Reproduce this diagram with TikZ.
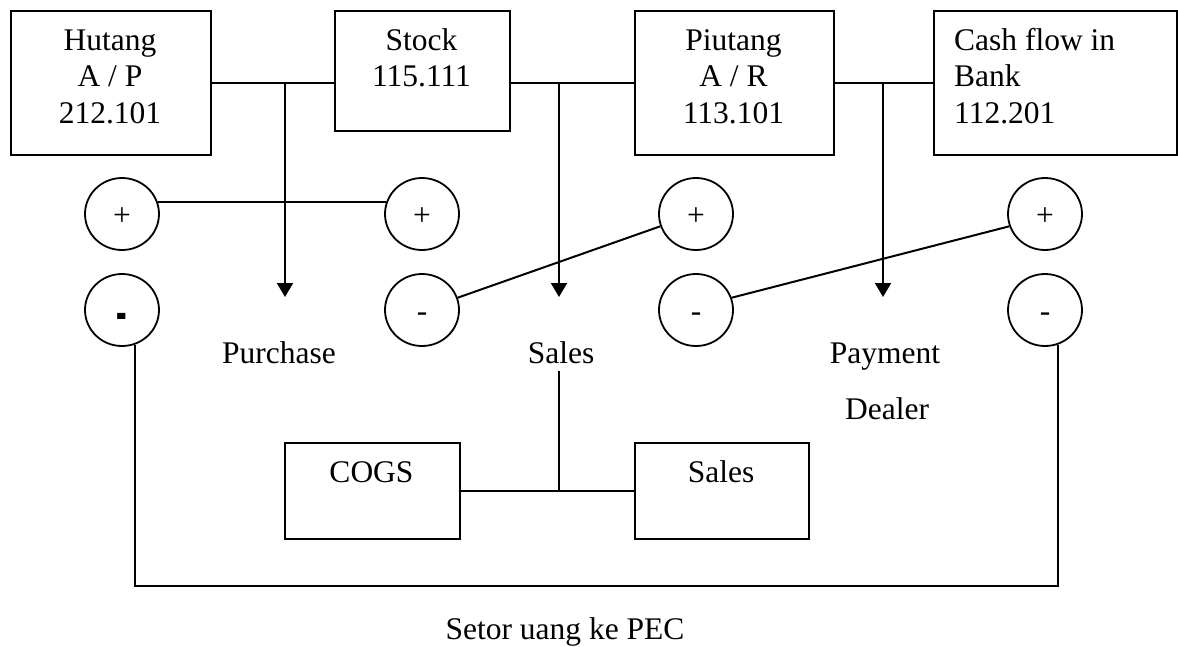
\documentclass[tikz,border=0pt]{standalone}
\usepackage{fontspec}
\usepackage{graphicx}
\setmainfont{Liberation Serif}
\usetikzlibrary{shapes.geometric,arrows.meta}
\begin{document}
\begin{tikzpicture}[x=1pt,y=-1pt,
  every node/.style={font=\fontsize{31.5}{36.8}\selectfont, inner sep=0pt},
  box/.style={draw, line width=2pt, anchor=north west, inner sep=0pt},
  lbl/.style={anchor=base},
  sign/.style={draw, ellipse, line width=1.8pt, minimum width=74pt, minimum height=72pt, text height=24pt, text depth=2pt},
  conn/.style={line width=2pt},
  arr/.style={line width=2pt, -{Triangle[width=16pt,length=14pt]}}]
\useasboundingbox (0,0) rectangle (1178,646);

% account boxes
\node[box, minimum width=200pt, minimum height=144pt] (hutang) at (10,10) {};
\node[box, minimum width=175pt, minimum height=120pt] (stock) at (334,10) {};
\node[box, minimum width=199pt, minimum height=144pt] (piutang) at (634,10) {};
\node[box, minimum width=243pt, minimum height=144pt] (cash) at (933,10) {};
\node[box, minimum width=175pt, minimum height=96pt] (cogs) at (284,442) {};
\node[box, minimum width=174pt, minimum height=96pt] (salesbox) at (634,442) {};

% box texts
\node[anchor=base] (hutangT) at (110,50) {\begin{tabular}[t]{@{}c@{}}Hutang\\A / P\\212.101\end{tabular}};
\node[anchor=base] (stockT) at (421.5,50) {\begin{tabular}[t]{@{}c@{}}Stock\\115.111\end{tabular}};
\node[anchor=base] (piutangT) at (733.5,50) {\begin{tabular}[t]{@{}c@{}}Piutang\\A / R\\113.101\end{tabular}};
\node[anchor=base west] (cashT) at (954,50) {\begin{tabular}[t]{@{}l@{}}Cash flow in\\Bank\\112.201\end{tabular}};
\node[anchor=base] (cogsT) at (371.5,482) {COGS};
\node[anchor=base] (salesboxT) at (721,482) {Sales};

% top connectors
\coordinate (j1) at (285,82);
\coordinate (j2) at (559,82);
\coordinate (j3) at (883,82);
\coordinate (a1) at (285,297);
\coordinate (a2) at (559,297);
\coordinate (a3) at (883,297);
\draw[conn] (hutang.east) -- (stock.west |- hutang.east);
\draw[conn] (stock.east |- piutang.west) -- (piutang.west);
\draw[conn] (piutang.east) -- (cash.west);
\draw[arr] (j1) -- (a1);
\draw[arr] (j2) -- (a2);
\draw[arr] (j3) -- (a3);

% plus / minus circles
\node[sign] (p1) at (122,214) {+};
\node[sign] (p2) at (422,214) {+};
\node[sign] (p3) at (696,214) {+};
\node[sign] (p4) at (1045,214) {+};
\node[sign] (m1) at (122,310) {\raisebox{-12pt}{\scalebox{1}[2.3]{\bfseries -}}};
\node[sign] (m2) at (422,310) {-};
\node[sign] (m3) at (696,310) {-};
\node[sign] (m4) at (1045,310) {-};

\draw[conn] (p1.18) -- (p2.162);
\draw[conn] (m2.19) -- (p3.199);
\draw[conn] (m3.19) -- (p4.199);

% labels
\node[lbl] (purchaseL) at (279,363) {Purchase};
\node[lbl, inner ysep=7pt] (salesL) at (561,363) {Sales};
\node[lbl] (paymentL) at (885,363) {Payment};
\node[lbl] (dealerL) at (887,419) {Dealer};
\node[lbl] (setorL) at (565,639) {Setor uang ke PEC};

% sales split
\coordinate (j4) at (559,490);
\draw[conn] (salesL.south -| j4) -- (j4);
\draw[conn] (cogs.east) -- (salesbox.west);

% loop to PEC
\coordinate (lb) at (0,586);
\draw[conn] (m1.-69) -- (m1.-69 |- lb) -- (m4.-69 |- lb) -- (m4.-69);
\end{tikzpicture}
\end{document}
